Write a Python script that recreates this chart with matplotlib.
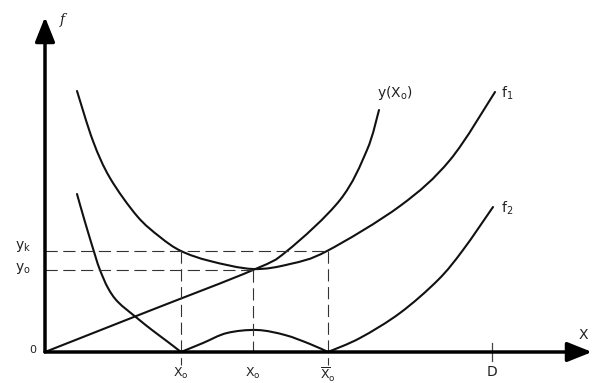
import matplotlib
matplotlib.use("Agg")
import matplotlib.pyplot as plt
from matplotlib.path import Path
from matplotlib.patches import PathPatch

plt.rcParams['font.family'] = ['DejaVu Sans']
plt.rcParams['mathtext.fontset'] = 'dejavusans'

# ---- data (schematic units: x to the right of origin, f above the x axis) ----
f1_x = [32, 48, 65, 92, 115, 136, 165, 208, 245, 282, 355, 405, 450]
f1_y = [261, 211, 174, 136, 115, 101, 91, 83, 88, 101, 146, 192, 260]

yx0_x = [0, 104, 208, 242, 295, 322, 334]
yx0_y = [0, 41, 82, 101, 152, 202, 242]

f2_left_x = [32, 40, 50, 55, 63, 73, 92, 107, 123, 136]
f2_left_y = [158, 130, 97, 82, 64, 50, 34, 22, 10, 0]

f2_hump_x = [136, 158, 182, 212, 240, 265, 283]
f2_hump_y = [0, 9, 19, 22, 17, 8, 0]

f2_right_x = [283, 315, 355, 393, 418, 448]
f2_right_y = [0, 14, 39, 72, 102, 145]

x_marks = [136, 208, 283]          # x0, x0, x̄0
x_labels = [r'$\mathrm{X_o}$', r'$\mathrm{X_o}$', r'$\overline{\mathrm{X}}_\mathrm{o}$']
d_mark = 447
y_k = 101
y_o = 82
y_axis_top = 335
x_axis_end = 547

fig = plt.figure(figsize=(5.94, 3.83), dpi=100)
ax = fig.add_axes([0, 0, 1, 1])
ax.set_xlim(-45, 549)
ax.set_ylim(-31, 352)
ax.axis('off')

ink = '#111111'
lw_curve = 1.5


def smooth_curve(xs, ys, **kw):
    """Draw a smooth (Catmull-Rom style Bezier) path through the given points."""
    pts = list(zip(xs, ys))
    verts = [pts[0]]
    codes = [Path.MOVETO]
    n = len(pts)
    for i in range(n - 1):
        p0 = pts[i - 1] if i > 0 else pts[i]
        p1 = pts[i]
        p2 = pts[i + 1]
        p3 = pts[i + 2] if i + 2 < n else pts[i + 1]
        c1 = (p1[0] + (p2[0] - p0[0]) / 6, p1[1] + (p2[1] - p0[1]) / 6)
        c2 = (p2[0] - (p3[0] - p1[0]) / 6, p2[1] - (p3[1] - p1[1]) / 6)
        verts += [c1, c2, p2]
        codes += [Path.CURVE4] * 3
    ax.add_patch(PathPatch(Path(verts, codes), fill=False, **kw))


# dashed guide lines
dash_kw = dict(color='#333333', lw=0.8, dashes=(11, 5))
ax.plot([0, x_marks[2]], [y_k, y_k], **dash_kw)
ax.plot([0, x_marks[1]], [y_o, y_o], **dash_kw)
ax.plot([x_marks[0], x_marks[0]], [y_k, -13], **dash_kw)
ax.plot([x_marks[1], x_marks[1]], [y_o, 0], **dash_kw)
ax.plot([x_marks[2], x_marks[2]], [y_k, -13], **dash_kw)

# curves
ckw = dict(edgecolor=ink, lw=lw_curve, capstyle='round', joinstyle='round')
smooth_curve(f1_x, f1_y, **ckw)
smooth_curve(yx0_x, yx0_y, **ckw)
smooth_curve(f2_left_x, f2_left_y, **ckw)
smooth_curve(f2_hump_x, f2_hump_y, **ckw)
smooth_curve(f2_right_x, f2_right_y, **ckw)

# axes with arrows
arrow = dict(arrowstyle='-|>,head_length=0.75,head_width=0.3', color='black',
             lw=2.5, shrinkA=0, shrinkB=0, mutation_scale=20)
ax.annotate('', xy=(0, y_axis_top), xytext=(0, 0), arrowprops=arrow)
ax.annotate('', xy=(x_axis_end, 0), xytext=(0, 0), arrowprops=arrow)

# D tick
ax.plot([d_mark, d_mark], [9, -9], color='#444444', lw=0.9)

# labels
tk = dict(color='#222222', fontsize=10, ha='center', va='center')
ax.text(17, 332, 'f', style='italic', family='DejaVu Serif', **tk)
ax.text(-12, 2, '0', **{**tk, 'fontsize': 8})
ax.text(-22, 105, r'$\mathrm{y_k}$', **tk)
ax.text(-22, 83, r'$\mathrm{y_o}$', **tk)
for xm, lab in zip(x_marks, x_labels):
    ax.text(xm, -14, lab, **{**tk, 'va': 'top', 'fontsize': 9})
ax.text(d_mark, -20, 'D', **tk)
ax.text(538, 17, 'X', **tk)
ax.text(350, 259, r'$\mathrm{y(X_o)}$', **tk)
ax.text(462, 259, r'$\mathrm{f_1}$', **tk)
ax.text(462, 144, r'$\mathrm{f_2}$', **tk)

fig.savefig('out.png', dpi=100)
